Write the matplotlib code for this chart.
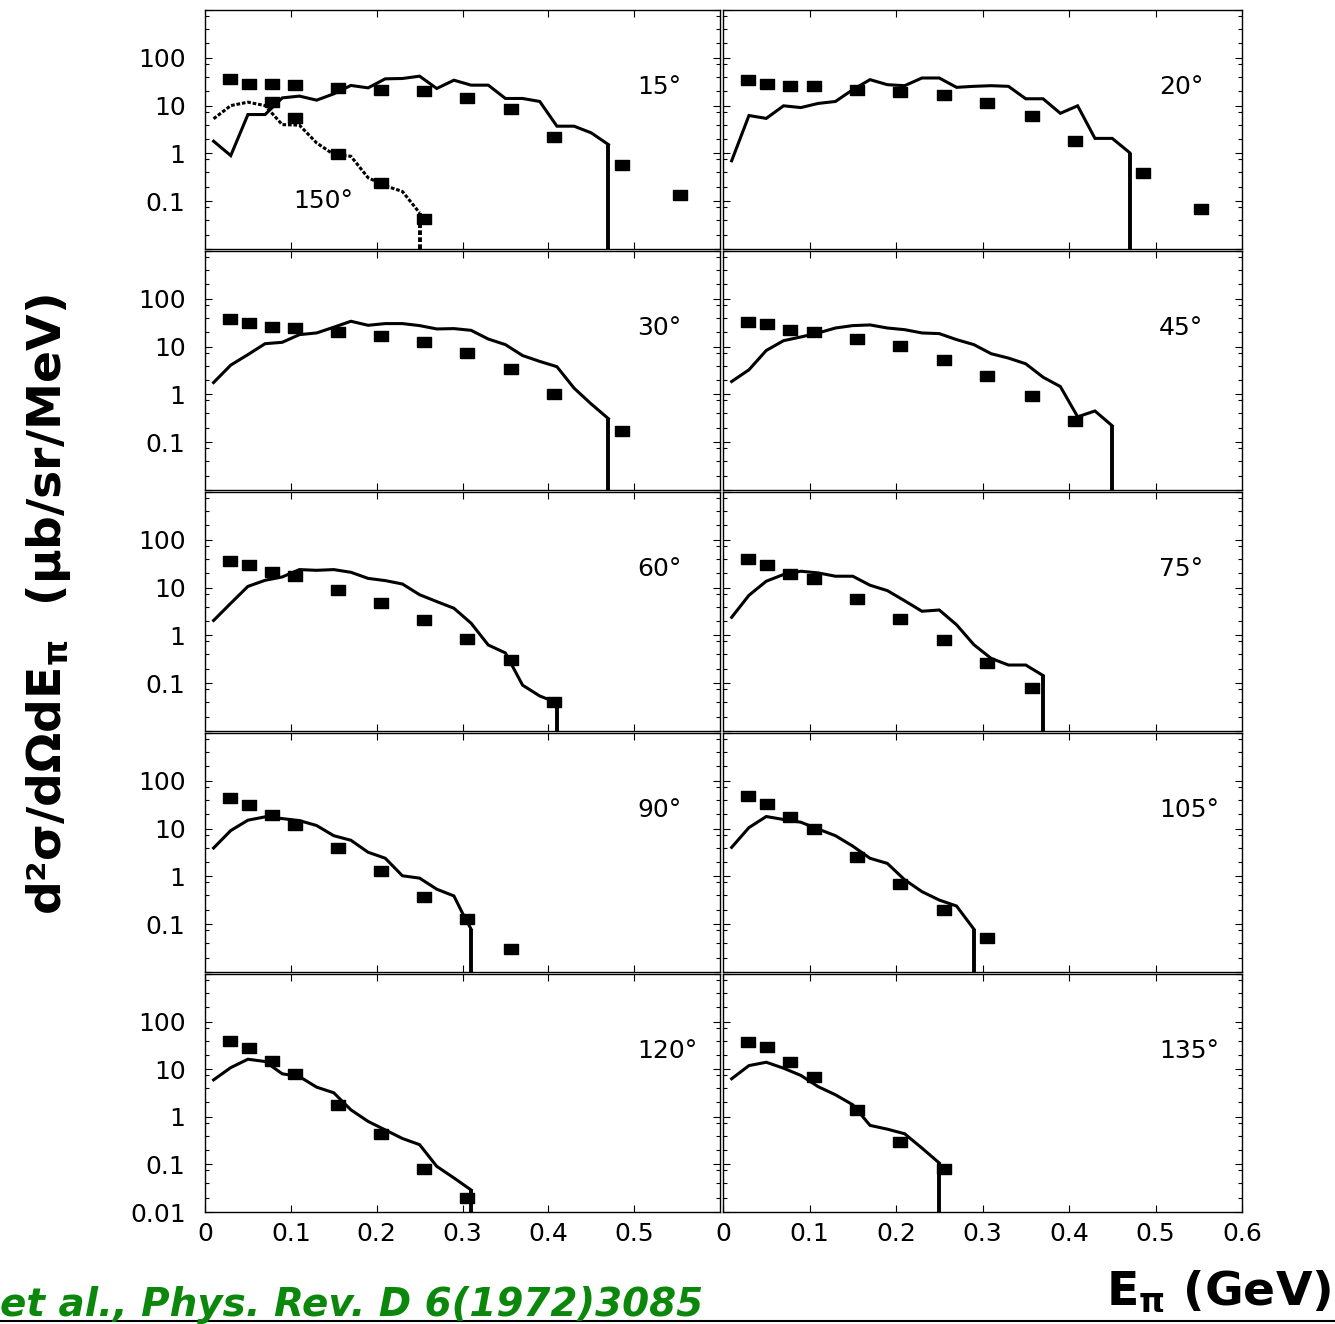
import numpy as np
import matplotlib
matplotlib.use("Agg")
import matplotlib.pyplot as plt
from matplotlib.ticker import FixedLocator, FixedFormatter, NullFormatter, LogLocator
from matplotlib.lines import Line2D

plt.rcParams['font.family'] = ['DejaVu Sans']
plt.rcParams['mathtext.fontset'] = 'dejavusans'
plt.rcParams['mathtext.default'] = 'bf'

# measured points (same energies in every panel)
e_data = [0.029, 0.051, 0.078, 0.105, 0.155, 0.205, 0.255, 0.305, 0.357, 0.407, 0.486, 0.553]
# model curves, 20 MeV steps
e_model = [0.01, 0.03, 0.05, 0.07, 0.09, 0.11, 0.13, 0.15, 0.17, 0.19, 0.21, 0.23,
           0.25, 0.27, 0.29, 0.31, 0.33, 0.35, 0.37, 0.39, 0.41, 0.43, 0.45, 0.47]
e_model_90 = [0.01, 0.03, 0.05, 0.07, 0.09, 0.11, 0.13, 0.15, 0.17, 0.19, 0.21, 0.23,
              0.25, 0.27, 0.29, 0.30, 0.31]

d15 = [36.3, 28.6, 27.7, 26.4, 23.5, 21.7, 20.0, 14.5, 8.55, 2.18, 0.58, 0.138]
d20 = [34.9, 28.8, 25.3, 25.3, 21.5, 19.5, 16.3, 11.6, 6.1, 1.84, 0.39, 0.069]
d30 = [38.0, 30.8, 25.4, 24.5, 20.2, 16.9, 12.3, 7.2, 3.37, 1.0, 0.17]
d45 = [33.3, 29.8, 22.3, 20.6, 14.7, 10.1, 5.2, 2.4, 0.92, 0.28]
d60 = [36.8, 30.3, 21.2, 17.8, 9.0, 4.7, 2.1, 0.83, 0.31, 0.041]
d75 = [40.6, 30.4, 19.7, 15.2, 5.9, 2.2, 0.81, 0.27, 0.081]
d90 = [44.0, 31.8, 19.0, 12.1, 3.9, 1.32, 0.37, 0.13, 0.030]
d105 = [49.2, 32.4, 17.3, 9.8, 2.6, 0.71, 0.197, 0.051]
d120 = [39.3, 28.5, 15.2, 7.85, 1.73, 0.43, 0.080, 0.0197]
d135 = [38.1, 29.0, 14.0, 7.0, 1.40, 0.30, 0.080]
e_data_150 = [0.078, 0.105, 0.155, 0.205, 0.255]
d150 = [11.8, 5.5, 0.98, 0.24, 0.043]

m15 = [1.80, 0.90, 6.5, 6.5, 14.5, 15.8, 13.0, 17.6, 26.4, 23.5, 36.3, 36.9, 41.3,
       22.8, 34.0, 26.8, 26.8, 14.1, 14.1, 12.2, 3.71, 3.71, 2.69, 1.53]
m150 = [5.3, 10.0, 11.8, 10.0, 4.0, 3.9, 1.66, 0.95, 0.87, 0.31, 0.21, 0.16, 0.057]
m20 = [0.70, 6.2, 5.4, 9.9, 9.1, 11.1, 12.2, 21.5, 34.9, 27.4, 26.1, 37.8, 37.8,
       24.1, 25.3, 26.1, 25.3, 13.9, 13.9, 6.9, 9.9, 2.06, 2.06, 1.04]
m30 = [1.77, 4.1, 6.8, 11.5, 12.3, 17.8, 19.3, 25.4, 33.9, 27.9, 30.3, 30.3, 27.5,
       23.4, 23.8, 21.9, 14.4, 11.0, 6.5, 4.9, 3.8, 1.35, 0.63, 0.31]
m45 = [1.86, 3.27, 8.3, 13.3, 15.9, 19.3, 24.5, 27.5, 28.4, 24.5, 22.6, 19.3, 18.7,
       14.0, 11.0, 7.1, 5.75, 4.37, 2.29, 1.46, 0.34, 0.45, 0.22]
m60 = [2.05, 4.7, 10.6, 14.2, 16.7, 23.8, 23.0, 23.8, 20.9, 15.6, 14.0, 11.9, 7.1,
       5.1, 3.7, 1.8, 0.63, 0.43, 0.091, 0.054, 0.039]
m75 = [2.39, 6.9, 13.6, 18.8, 22.0, 20.3, 17.3, 17.3, 11.2, 8.65, 5.3, 3.2, 3.4,
       1.67, 0.64, 0.33, 0.24, 0.24, 0.145]
m90 = [3.93, 9.1, 15.0, 17.6, 16.2, 14.7, 11.6, 7.1, 5.7, 3.2, 2.4, 1.03, 0.92,
       0.54, 0.39, 0.17, 0.079]
m105 = [4.05, 10.5, 17.9, 15.5, 13.6, 9.8, 7.1, 4.3, 2.39, 1.87, 0.85, 0.48, 0.32,
        0.24, 0.079]
m120 = [5.97, 10.8, 16.2, 14.5, 8.0, 7.0, 4.2, 3.2, 1.40, 0.80, 0.53, 0.35, 0.26,
        0.091, 0.052, 0.029]
m135 = [6.3, 11.9, 14.0, 10.5, 7.4, 4.3, 2.9, 1.79, 0.66, 0.55, 0.44, 0.22, 0.107]

angles = ['15°', '20°', '30°', '45°', '60°', '75°', '90°', '105°', '120°', '135°']
data_sets = [d15, d20, d30, d45, d60, d75, d90, d105, d120, d135]
model_sets = [m15, m20, m30, m45, m60, m75, m90, m105, m120, m135]

y_ticks = [0.01, 0.1, 1, 10, 100, 1000]
x_ticks = [0.1, 0.2, 0.3, 0.4, 0.5]

W, H = 1335, 1324
fig = plt.figure(figsize=(W / 100, H / 100), dpi=100)

cols = [(205, 720), (723, 1242)]
rows = [(10, 249), (251, 490), (492, 731), (733, 972), (974, 1212)]

# rectangular filled marker, wider than tall
box = [(-1.3, -1), (1.3, -1), (1.3, 1), (-1.3, 1), (-1.3, -1)]
FS = 18


def draw_model(ax, e, v, **kw):
    ax.plot(e, v, color='black', lw=2.2, solid_joinstyle='miter', **kw)
    ax.vlines(e[-1], ax.get_ylim()[0], v[-1], color='black', lw=2.8,
              linestyles=kw.get('ls', 'solid'))


for i in range(10):
    r, c = i // 2, i % 2
    x0, x1 = cols[c]
    y0, y1 = rows[r]
    ax = fig.add_axes([x0 / W, 1 - y1 / H, (x1 - x0) / W, (y1 - y0) / H])
    ax.set_yscale('log')
    ax.set_xlim(0, 0.6)
    ax.set_ylim(0.01, 1000)

    em = e_model_90 if angles[i] == '90°' else e_model
    m = model_sets[i]
    draw_model(ax, em[:len(m)], m)
    d = data_sets[i]
    ax.plot(e_data[:len(d)], d, ls='none', marker=box, ms=9.5, color='black')

    if i == 0:
        draw_model(ax, e_model[:len(m150)], m150, ls=(0, (1.2, 0.6)))
        ax.plot(e_data_150, d150, ls='none', marker=box, ms=9.5, color='black')
        ax.text(0.171, 0.2, '150°', transform=ax.transAxes, fontsize=FS,
                ha='left', va='center')

    ax.text(0.84, 0.678, angles[i], transform=ax.transAxes, fontsize=FS,
            ha='left', va='center')

    ax.yaxis.set_major_locator(FixedLocator(y_ticks))
    ax.yaxis.set_minor_locator(LogLocator(base=10, subs=(2.0, 4.0, 7.5)))
    ax.yaxis.set_minor_formatter(NullFormatter())
    ax.xaxis.set_major_locator(FixedLocator(x_ticks))
    if c == 0:
        ylab = ['0.01' if r == 4 else '', '0.1', '1', '10', '100', '']
        ax.yaxis.set_major_formatter(FixedFormatter(ylab))
    else:
        ax.yaxis.set_major_formatter(NullFormatter())
    if r == 4:
        if c == 0:
            ax.xaxis.set_major_locator(FixedLocator([0] + x_ticks))
            ax.xaxis.set_major_formatter(FixedFormatter(['0', '0.1', '0.2', '0.3', '0.4', '0.5']))
        else:
            ax.xaxis.set_major_locator(FixedLocator([0] + x_ticks + [0.6]))
            ax.xaxis.set_major_formatter(FixedFormatter(['0', '0.1', '0.2', '0.3', '0.4', '0.5', '0.6']))
    else:
        ax.xaxis.set_major_formatter(NullFormatter())

    ax.tick_params(which='both', direction='in', top=True, right=True, width=0.8)
    ax.tick_params(which='major', length=5, labelsize=FS)
    ax.tick_params(which='minor', length=3)
    ax.tick_params(axis='y', which='major', pad=14)
    ax.tick_params(axis='x', which='major', pad=7)
    for s in ax.spines.values():
        s.set_linewidth(1.0)

fig.text(0.036, 0.543, 'd²σ/dΩdE$_{π}$  (μb/sr/MeV)', rotation=90, fontsize=34,
         fontweight='bold', ha='center', va='center')
fig.text(0.997, 1 - 1305 / H, 'E$_{π}$ (GeV)', fontsize=34, fontweight='bold',
         ha='right', va='baseline')
fig.text(0.0, 1 - 1316 / H, 'et al., Phys. Rev. D 6(1972)3085', fontsize=28,
         fontweight='bold', style='italic', color='#0b870b', ha='left', va='baseline')
fig.add_artist(Line2D([0, 1], [1 - 1321 / H, 1 - 1321 / H], color='black', lw=1.5))

fig.savefig('out.png', dpi=100)
